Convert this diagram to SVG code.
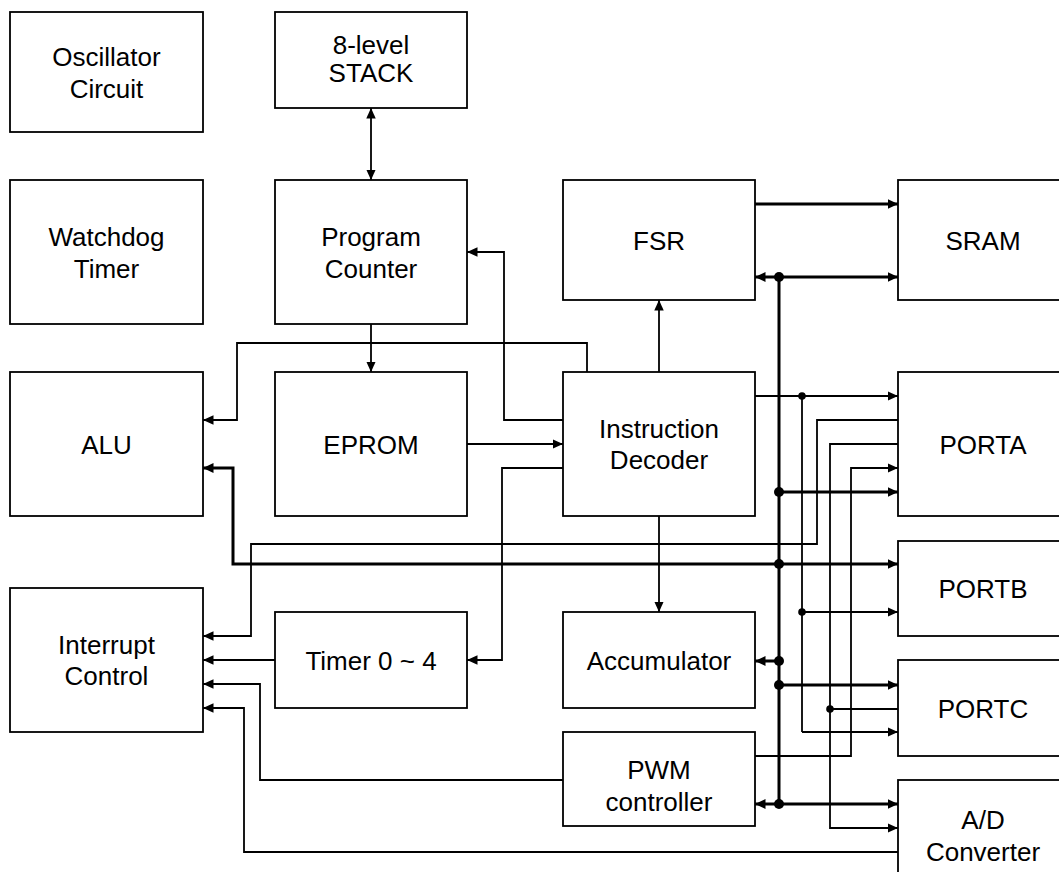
<svg xmlns="http://www.w3.org/2000/svg" width="1059" height="872" viewBox="0 0 1059 872">
<style>
.box{fill:#fff;stroke:#000;stroke-width:1.8}
.t{font-family:"Liberation Sans",Arial,sans-serif;font-size:26px;fill:#000;text-anchor:middle}
.w{fill:none;stroke:#000;stroke-width:1.8}
.k{fill:none;stroke:#000;stroke-width:3}
.a{marker-end:url(#ah)}
.b{marker-start:url(#ah);marker-end:url(#ah)}
.ka{marker-end:url(#ahk)}
.kb{marker-start:url(#ahk);marker-end:url(#ahk)}
.dot{fill:#000}
</style>
<defs>
<marker id="ah" markerUnits="userSpaceOnUse" markerWidth="12" markerHeight="10" refX="10.5" refY="4.75" orient="auto-start-reverse"><path d="M0,0 L10.5,4.75 L0,9.5 z" fill="#000"/></marker>
<marker id="ahk" markerUnits="userSpaceOnUse" markerWidth="12" markerHeight="11" refX="10.5" refY="5" orient="auto-start-reverse"><path d="M0,0 L10.5,5 L0,10 z" fill="#000"/></marker>
</defs>
<rect width="1059" height="872" fill="#fff"/>
<g id="connectors">
<path class="w b" d="M371,108 V180"/>
<path class="w a" d="M371,324 V372"/>
<path class="w a" d="M563,420 H504 V252 H467"/>
<path class="w a" d="M587,372 V343 H237 V420 H203"/>
<path class="w a" d="M467,444 H563"/>
<path class="w a" d="M563,468 H502 V660 H467"/>
<path class="w a" d="M659,372 V300"/>
<path class="w a" d="M659,516 V612"/>
<path class="k ka" d="M755,204 H898"/>
<path class="k" d="M779,277 V804"/>
<path class="k kb" d="M755,277 H898"/>
<path class="k ka" d="M779,492 H898"/>
<path class="k ka" d="M779,564 H898"/>
<path class="k ka" d="M779,564 H233 V468 H203"/>
<path class="k ka" d="M779,661 H755"/>
<path class="k ka" d="M779,685 H898"/>
<path class="k kb" d="M755,804 H898"/>
<path class="w a" d="M755,396 H898"/>
<path class="w" d="M802,396 V732"/>
<path class="w a" d="M802,612 H898"/>
<path class="w a" d="M802,732 H898"/>
<path class="w a" d="M898,420 H817 V544 H251 V636 H203"/>
<path class="w a" d="M898,444 H830 V828 H898"/>
<path class="w" d="M898,709 H830"/>
<path class="w a" d="M755,756 H851 V468 H898"/>
<path class="w a" d="M275,660 H203"/>
<path class="w a" d="M563,780 H260 V684 H203"/>
<path class="w a" d="M898,852 H244 V708 H203"/>
<circle class="dot" cx="779" cy="277" r="5"/>
<circle class="dot" cx="779" cy="492" r="5"/>
<circle class="dot" cx="779" cy="564" r="5"/>
<circle class="dot" cx="779" cy="661" r="5"/>
<circle class="dot" cx="779" cy="685" r="5"/>
<circle class="dot" cx="779" cy="804" r="5"/>
<circle class="dot" cx="802" cy="396" r="3.8"/>
<circle class="dot" cx="802" cy="612" r="3.8"/>
<circle class="dot" cx="830" cy="709" r="3.8"/>
</g>
<g id="osc"><rect class="box" x="10" y="12" width="193" height="120"/><text class="t" x="106.5" y="65.5">Oscillator</text><text class="t" x="106.5" y="97.5">Circuit</text></g>
<g id="stack"><rect class="box" x="275" y="12" width="192" height="96"/><text class="t" x="371" y="53.5">8-level</text><text class="t" x="371" y="82">STACK</text></g>
<g id="watchdog"><rect class="box" x="10" y="180" width="193" height="144"/><text class="t" x="106.5" y="246">Watchdog</text><text class="t" x="106.5" y="277.5">Timer</text></g>
<g id="pc"><rect class="box" x="275" y="180" width="192" height="144"/><text class="t" x="371" y="246">Program</text><text class="t" x="371" y="277.5">Counter</text></g>
<g id="fsr"><rect class="box" x="563" y="180" width="192" height="120"/><text class="t" x="659" y="250">FSR</text></g>
<g id="sram"><rect class="box" x="898" y="180" width="200" height="120"/><text class="t" x="983" y="250">SRAM</text></g>
<g id="alu"><rect class="box" x="10" y="372" width="193" height="144"/><text class="t" x="106.5" y="453.5">ALU</text></g>
<g id="eprom"><rect class="box" x="275" y="372" width="192" height="144"/><text class="t" x="371" y="453.5">EPROM</text></g>
<g id="decoder"><rect class="box" x="563" y="372" width="192" height="144"/><text class="t" x="659" y="437.5">Instruction</text><text class="t" x="659" y="469">Decoder</text></g>
<g id="porta"><rect class="box" x="898" y="372" width="200" height="144"/><text class="t" x="983" y="453.5">PORTA</text></g>
<g id="portb"><rect class="box" x="898" y="541" width="200" height="95"/><text class="t" x="983" y="598">PORTB</text></g>
<g id="interrupt"><rect class="box" x="10" y="588" width="193" height="144"/><text class="t" x="106.5" y="653.5">Interrupt</text><text class="t" x="106.5" y="685">Control</text></g>
<g id="timer"><rect class="box" x="275" y="612" width="192" height="96"/><text class="t" x="371" y="669.5">Timer 0 ~ 4</text></g>
<g id="accumulator"><rect class="box" x="563" y="612" width="192" height="96"/><text class="t" x="659" y="669.5">Accumulator</text></g>
<g id="portc"><rect class="box" x="898" y="660" width="200" height="96"/><text class="t" x="983" y="717.5">PORTC</text></g>
<g id="pwm"><rect class="box" x="563" y="732" width="192" height="94"/><text class="t" x="659" y="779">PWM</text><text class="t" x="659" y="811">controller</text></g>
<g id="adc"><rect class="box" x="898" y="780" width="200" height="120"/><text class="t" x="983" y="829">A/D</text><text class="t" x="983" y="861">Converter</text></g>
</svg>
